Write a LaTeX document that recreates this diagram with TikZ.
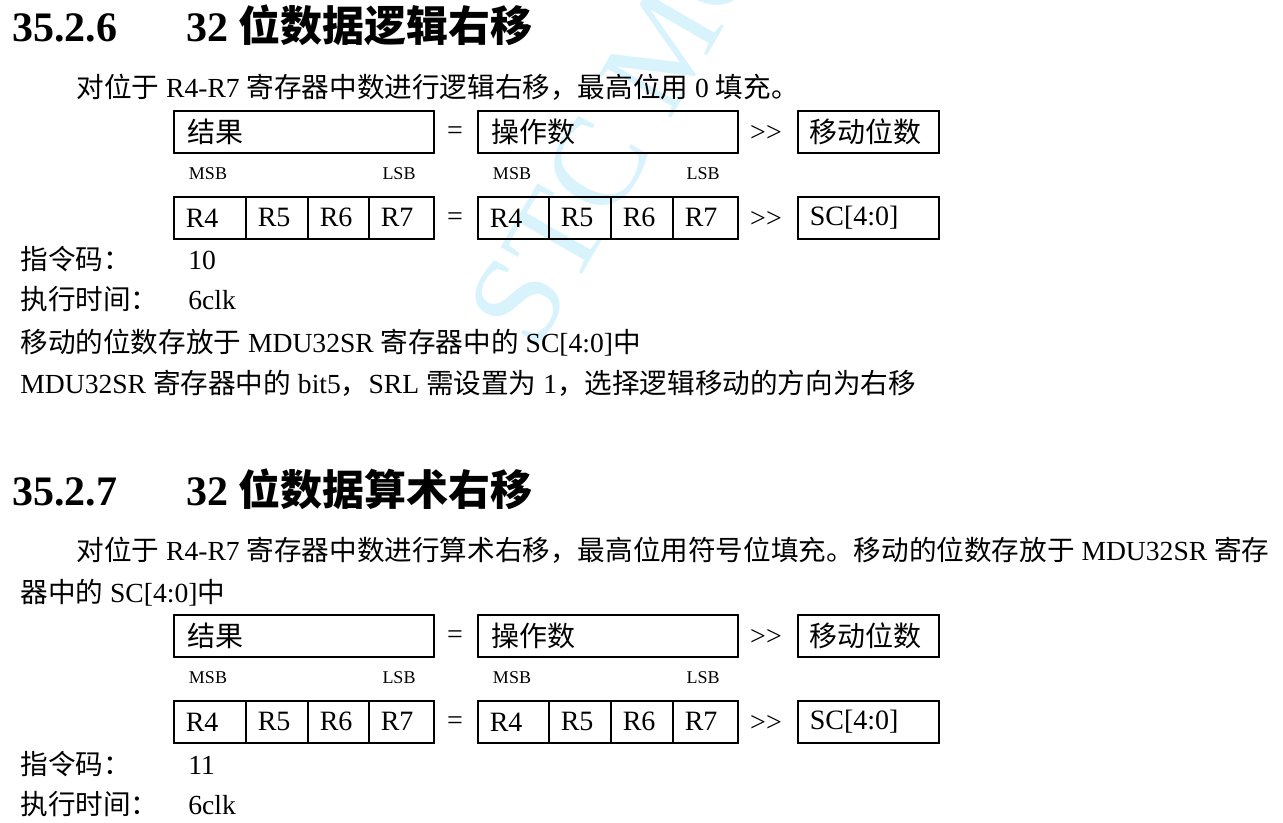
\documentclass[tikz,border=0pt]{standalone}
\usepackage{fontspec}
\setmainfont{Liberation Serif}
\newfontfamily\zhfont{Noto Sans CJK SC}
\newcommand{\zh}[1]{{\zhfont #1}}
\newcommand{\shr}{{>}{>}}
\tikzset{
  txt/.style={anchor=base west, inner sep=0pt, font=\fontsize{13.8}{16}\selectfont},
  head/.style={anchor=base west, inner sep=0pt, font=\fontsize{21}{24}\selectfont\bfseries},
  cell/.style={draw, thick, anchor=north west, minimum height=21pt, inner xsep=6pt, inner ysep=0pt, align=left, font=\fontsize{14}{16}\selectfont},
  tag/.style={inner sep=0pt, font=\fontsize{9}{10}\selectfont},
  op/.style={inner sep=0pt, font=\fontsize{14}{16}\selectfont}
}
\newcommand{\regtable}[2]{%
  \node[cell, minimum width=130pt, text width=116pt] (res#1) at (173,#2) {\zh{结果}};
  \node[op] (eqa#1) at (455,#2+23) {=};
  \node[cell, minimum width=130pt, text width=116pt] (opd#1) at (477,#2) {\zh{操作数}};
  \node[op] (sha#1) at (766,#2+23) {\shr};
  \node[cell, minimum width=70.5pt, text width=58.5pt] (cnt#1) at (797,#2) {\zh{移动位数}};
  \node[tag] (msba#1) at (208,#2+64) {MSB};
  \node[tag] (lsba#1) at (399,#2+64) {LSB};
  \node[tag] (msbb#1) at (512,#2+64) {MSB};
  \node[tag] (lsbb#1) at (703,#2+64) {LSB};
  \node[cell, minimum width=36pt, text width=24pt] (ra4#1) at (173,#2+86) {R4};
  \node[cell, minimum width=31pt, text width=19pt] (ra5#1) at (245,#2+86) {R5};
  \node[cell, minimum width=30.5pt, text width=18.5pt] (ra6#1) at (307,#2+86) {R6};
  \node[cell, minimum width=32.5pt, text width=20.5pt] (ra7#1) at (368,#2+86) {R7};
  \node[op] (eqb#1) at (455,#2+109) {=};
  \node[cell, minimum width=35.5pt, text width=23.5pt] (rb4#1) at (477,#2+86) {R4};
  \node[cell, minimum width=31pt, text width=19pt] (rb5#1) at (548,#2+86) {R5};
  \node[cell, minimum width=31pt, text width=19pt] (rb6#1) at (610,#2+86) {R6};
  \node[cell, minimum width=32.5pt, text width=20.5pt] (rb7#1) at (672,#2+86) {R7};
  \node[op] (shb#1) at (766,#2+109) {\shr};
  \node[cell, minimum width=70.5pt, text width=58.5pt] (sc#1) at (797,#2+86) {SC[4:0]};
}
\begin{document}
\begin{tikzpicture}[x=0.5pt,y=-0.5pt]
\useasboundingbox (0,0) rectangle (1283,823);
% watermark
\begin{scope}
\clip (0,0) rectangle (1283,823);
\node[rotate=60, text=cyan!15, font=\fontsize{64}{66}\selectfont] (wm) at (640,90) {STC MCU};
\end{scope}
% 35.2.6
\node[head] (h1n) at (12,42) {35.2.6};
\node[head] (h1t) at (186,42) {32 \zh{位数据逻辑右移}};
\node[txt] (p1) at (76,98) {\zh{对位于} R4-R7 \zh{寄存器中数进行逻辑右移，最高位用} 0 \zh{填充。}};
\regtable{a}{110}
\node[txt] (c1l) at (20,270) {\zh{指令码：}};
\node[txt] (c1v) at (188,270) {10};
\node[txt] (t1l) at (20,310) {\zh{执行时间：}};
\node[txt] (t1v) at (188,310) {6clk};
\node[txt] (n1) at (20,352) {\zh{移动的位数存放于} MDU32SR \zh{寄存器中的} SC[4:0]\zh{中}};
\node[txt] (n2) at (20,393) {MDU32SR \zh{寄存器中的} bit5\zh{，}SRL \zh{需设置为} 1\zh{，选择逻辑移动的方向为右移}};
% 35.2.7
\node[head] (h2n) at (12,505) {35.2.7};
\node[head] (h2t) at (186,505) {32 \zh{位数据算术右移}};
\node[txt] (p2) at (76,560) {\zh{对位于} R4-R7 \zh{寄存器中数进行算术右移，最高位用符号位填充。移动的位数存放于} MDU32SR \zh{寄存}};
\node[txt] (p2b) at (20,602) {\zh{器中的} SC[4:0]\zh{中}};
\regtable{b}{614}
\node[txt] (c2l) at (20,774) {\zh{指令码：}};
\node[txt] (c2v) at (188,774) {11};
\node[txt] (t2l) at (20,814) {\zh{执行时间：}};
\node[txt] (t2v) at (188,814) {6clk};
\end{tikzpicture}
\end{document}
